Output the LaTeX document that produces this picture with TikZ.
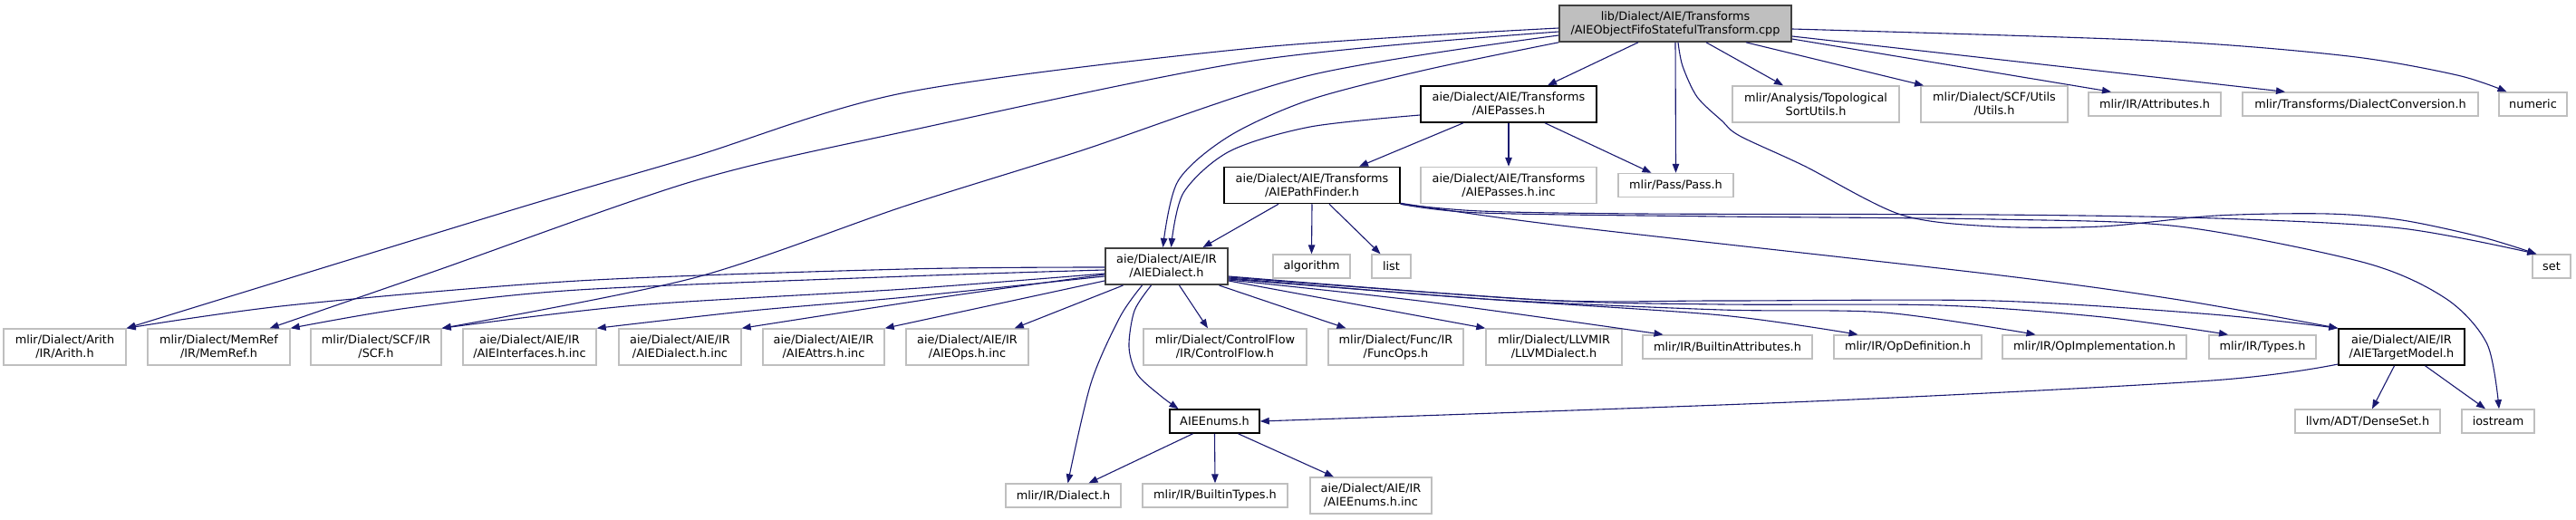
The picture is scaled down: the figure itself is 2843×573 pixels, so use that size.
\documentclass[tikz,border=0pt]{standalone}
\usepackage{fontspec}
\setmainfont{DejaVu Sans}
\usetikzlibrary{arrows.meta}
\definecolor{edgecol}{HTML}{191970}
\definecolor{lgray}{HTML}{BFBFBF}
\definecolor{dgray}{HTML}{404040}
\tikzset{
  base/.style={rectangle, inner sep=0pt, align=center, font=\fontsize{12.85}{15}\selectfont},
  ext/.style={base, draw=lgray, line width=1.4pt, fill=white},
  doc/.style={base, draw=black, line width=1.5pt, fill=white},
  root/.style={base, draw=dgray, line width=1.6pt, fill=lgray},
  dep/.style={draw=edgecol, line width=1.1pt, -{Triangle[length=10pt,width=7.5pt,fill=edgecol]}},
}
\begin{document}
\begin{tikzpicture}[x=1pt,y=-1pt]
\useasboundingbox (0,0) rectangle (2843,573);
% row 0
\node[root, minimum width=256, minimum height=40] (T) at (1849,26) {lib/Dialect/AIE/Transforms\\/AIEObjectFifoStatefulTransform.cpp};
% row 1
\node[doc, minimum width=194, minimum height=40] (passes) at (1665,115) {aie/Dialect/AIE/Transforms\\/AIEPasses.h};
\node[ext, minimum width=184, minimum height=40] (topo) at (2004,115) {mlir/Analysis/Topological\\SortUtils.h};
\node[ext, minimum width=162, minimum height=40] (scfutils) at (2201,115) {mlir/Dialect/SCF/Utils\\/Utils.h};
\node[ext, minimum width=146, minimum height=26] (attrs) at (2378,115) {mlir/IR/Attributes.h};
\node[ext, minimum width=260, minimum height=26] (dconv) at (2605,115) {mlir/Transforms/DialectConversion.h};
\node[ext, minimum width=75, minimum height=26] (numeric) at (2795.5,115) {numeric};
% row 2
\node[doc, minimum width=194, minimum height=40] (pf) at (1448,204.5) {aie/Dialect/AIE/Transforms\\/AIEPathFinder.h};
\node[ext, minimum width=194, minimum height=40] (passesinc) at (1665,204.5) {aie/Dialect/AIE/Transforms\\/AIEPasses.h.inc};
\node[ext, minimum width=127, minimum height=26] (pass) at (1849.5,204.5) {mlir/Pass/Pass.h};
% row 3
\node[doc, draw=dgray, line width=2pt, minimum width=135, minimum height=40] (ad) at (1287.5,294) {aie/Dialect/AIE/IR\\/AIEDialect.h};
\node[ext, minimum width=85, minimum height=26] (algorithm) at (1447.5,294) {algorithm};
\node[ext, minimum width=43, minimum height=26] (list) at (1535.5,294) {list};
\node[ext, minimum width=42, minimum height=26] (set) at (2816,294) {set};
% row 4
\node[ext, minimum width=135, minimum height=40] (arith) at (71.5,383) {mlir/Dialect/Arith\\/IR/Arith.h};
\node[ext, minimum width=157, minimum height=40] (memref) at (241.5,383) {mlir/Dialect/MemRef\\/IR/MemRef.h};
\node[ext, minimum width=144, minimum height=40] (scf) at (415,383) {mlir/Dialect/SCF/IR\\/SCF.h};
\node[ext, minimum width=147, minimum height=40] (aieif) at (584.5,383) {aie/Dialect/AIE/IR\\/AIEInterfaces.h.inc};
\node[ext, minimum width=135, minimum height=40] (aiedinc) at (750.5,383) {aie/Dialect/AIE/IR\\/AIEDialect.h.inc};
\node[ext, minimum width=134, minimum height=40] (aieattrs) at (909,383) {aie/Dialect/AIE/IR\\/AIEAttrs.h.inc};
\node[ext, minimum width=135, minimum height=40] (aieops) at (1067.5,383) {aie/Dialect/AIE/IR\\/AIEOps.h.inc};
\node[ext, minimum width=180, minimum height=40] (cflow) at (1352,383) {mlir/Dialect/ControlFlow\\/IR/ControlFlow.h};
\node[ext, minimum width=149, minimum height=40] (func) at (1540.5,383) {mlir/Dialect/Func/IR\\/FuncOps.h};
\node[ext, minimum width=150, minimum height=40] (llvm) at (1715,383) {mlir/Dialect/LLVMIR\\/LLVMDialect.h};
\node[ext, minimum width=187, minimum height=26] (battr) at (1906.5,383) {mlir/IR/BuiltinAttributes.h};
\node[ext, minimum width=163, minimum height=26] (opdef) at (2105.5,383) {mlir/IR/OpDefinition.h};
\node[ext, minimum width=203, minimum height=26] (opimpl) at (2311.5,383) {mlir/IR/OpImplementation.h};
\node[ext, minimum width=118, minimum height=26] (types) at (2497,383) {mlir/IR/Types.h};
\node[doc, minimum width=139, minimum height=40] (tm) at (2650.5,383) {aie/Dialect/AIE/IR\\/AIETargetModel.h};
% row 5
\node[doc, minimum width=99, minimum height=26] (enums) at (1340.5,465) {AIEEnums.h};
\node[ext, minimum width=160, minimum height=26] (dense) at (2613,465) {llvm/ADT/DenseSet.h};
\node[ext, minimum width=80, minimum height=26] (iostream) at (2757,465) {iostream};
% row 6
\node[ext, minimum width=127, minimum height=26] (irdialect) at (1173.5,547) {mlir/IR/Dialect.h};
\node[ext, minimum width=160, minimum height=26] (btypes) at (1341,547) {mlir/IR/BuiltinTypes.h};
\node[ext, minimum width=134, minimum height=40] (enumsinc) at (1513,547) {aie/Dialect/AIE/IR\\/AIEEnums.h.inc};

% ---- edges from root
\draw[dep] ([xshift=-41]T.south) -- ([xshift=43]passes.north);
\draw[dep] (T.south) -- (pass.north);
\draw[dep] plot[smooth] coordinates {([xshift=3]T.south) (1857,73) (1873,107) (1900,133) (1920,150) (1991,183) (2098,237) (2200,250) (2319,250) (2446,238) (2569,236) (2651,243) (2740,262) ([xshift=5]set.north west)};
\draw[dep] ([xshift=34]T.south) -- ([xshift=-36]topo.north);
\draw[dep] ([xshift=78]T.south) -- ([xshift=-78]scfutils.north);
\draw[dep] ([yshift=-17]T.east) -- ([xshift=-48]attrs.north);
\draw[dep] ([yshift=-14]T.east) -- ([xshift=-83]dconv.north);
\draw[dep] plot[smooth] coordinates {([yshift=-6]T.east) (2381,45) (2592,62) (2712,83) ([xshift=-29]numeric.north)};
\draw[dep] plot[smooth] coordinates {([yshift=-5]T.west) (1383,53) (1000,102) (765,173) (571,230) (arith.north east)};
\draw[dep] plot[smooth] coordinates {([yshift=-9]T.west) (1383,67) (1000,145) (765,200) (478,300) ([xshift=-23]memref.north east)};
\draw[dep] plot[smooth] coordinates {([yshift=-13]T.west) (1446,83) (1191,167) (1000,227) (765,307) (scf.north east)};
\draw[dep] plot[smooth] coordinates {(T.south west) (1574,77) (1446,110) (1357,150) (1300,200) ([xshift=-4]ad.north)};

% ---- edges from AIEPasses.h
\draw[dep] plot[smooth] coordinates {([yshift=-12]passes.west) (1446,140) (1357,167) (1306,213) ([xshift=5]ad.north)};
\draw[dep] ([xshift=-50]passes.south) -- ([xshift=52]pf.north);
\draw[dep] (passes.south) -- (passesinc.north);
\draw[dep] ([xshift=40]passes.south) -- ([xshift=-27]pass.north);

% ---- edges from AIEPathFinder.h
\draw[dep] ([xshift=-37]pf.south) -- ([xshift=40]ad.north);
\draw[dep] (pf.south) -- (algorithm.north);
\draw[dep] ([xshift=19]pf.south) -- ([xshift=-12]list.north);
\draw[dep] plot[smooth] coordinates {(pf.south east) (1634,233) (1812,236) (2200,237) (2446,241) (2650,252) ([xshift=5]set.north west)};
\draw[dep] plot[smooth] coordinates {(pf.south east) (1634,235) (1900,239) (2200,242) (2405,250) (2610,290) (2700,330) (2745,380) ([xshift=1]iostream.north)};
\draw[dep] plot[smooth] coordinates {([yshift=1]pf.south east) (1723,249) (2200,303) (2405,331) (tm.north west)};

% ---- edges from AIEDialect.h
\draw[dep] plot[smooth] coordinates {([yshift=-1]ad.west) (1000,297) (638,310) (319,337) (arith.north east)};
\draw[dep] plot[smooth] coordinates {([yshift=-4]ad.west) (1000,305) (638,320) (450,340) (memref.north east)};
\draw[dep] plot[smooth] coordinates {([yshift=-8]ad.west) (1000,319) (702,337) (scf.north east)};
\draw[dep] plot[smooth] coordinates {([yshift=-11]ad.west) (1000,328) (829,343) (aieif.north east)};
\draw[dep] plot[smooth] coordinates {([yshift=-9]ad.west) (1047,327) (aiedinc.north east)};
\draw[dep] ([yshift=-16]ad.west) -- (aieattrs.north east);
\draw[dep] ([xshift=-48]ad.south) -- ([xshift=-16]aieops.north east);
\draw[dep] ([xshift=14]ad.south) -- ([xshift=-19]cflow.north);
\draw[dep] ([xshift=58]ad.south) -- ([xshift=-55]func.north);
\draw[dep] ([yshift=-16]ad.east) -- (llvm.north west);
\draw[dep] plot[smooth] coordinates {([yshift=-15]ad.east) (1574,333) ([xshift=-71]battr.north)};
\draw[dep] plot[smooth] coordinates {([yshift=-14]ad.east) (1638,330) (1900,348) ([xshift=-55]opdef.north)};
\draw[dep] plot[smooth] coordinates {([yshift=-13]ad.east) (1638,330) (1900,342) (2080,345) ([xshift=-65]opimpl.north)};
\draw[dep] plot[smooth] coordinates {([yshift=-12]ad.east) (1700,331) (1900,336) (2141,337) (2321,350) ([xshift=-38]types.north)};
\draw[dep] plot[smooth] coordinates {([yshift=-11]ad.east) (1700,331) (1900,332) (2200,332) (2441,347) (tm.north west)};
\draw[dep] plot[smooth] coordinates {([xshift=-17]ad.south) (1252,343) (1246,383) (1255,413) (1281,437) ([xshift=-40]enums.north)};
\draw[dep] plot[smooth] coordinates {([xshift=-27]ad.south) (1236,350) (1204,423) ([xshift=5]irdialect.north)};

% ---- edges from AIEEnums.h
\draw[dep] ([xshift=-24]enums.south) -- ([xshift=28]irdialect.north);
\draw[dep] (enums.south) -- (btypes.north);
\draw[dep] ([xshift=26]enums.south) -- ([xshift=-41]enumsinc.north);

% ---- edges from AIETargetModel.h
\draw[dep] plot[smooth] coordinates {([yshift=-19]tm.west) (2441,420) (2000,443) (enums.east)};
\draw[dep] ([xshift=-8]tm.south) -- ([xshift=5]dense.north);
\draw[dep] ([xshift=26]tm.south) -- ([xshift=-14]iostream.north);
\end{tikzpicture}
\end{document}
